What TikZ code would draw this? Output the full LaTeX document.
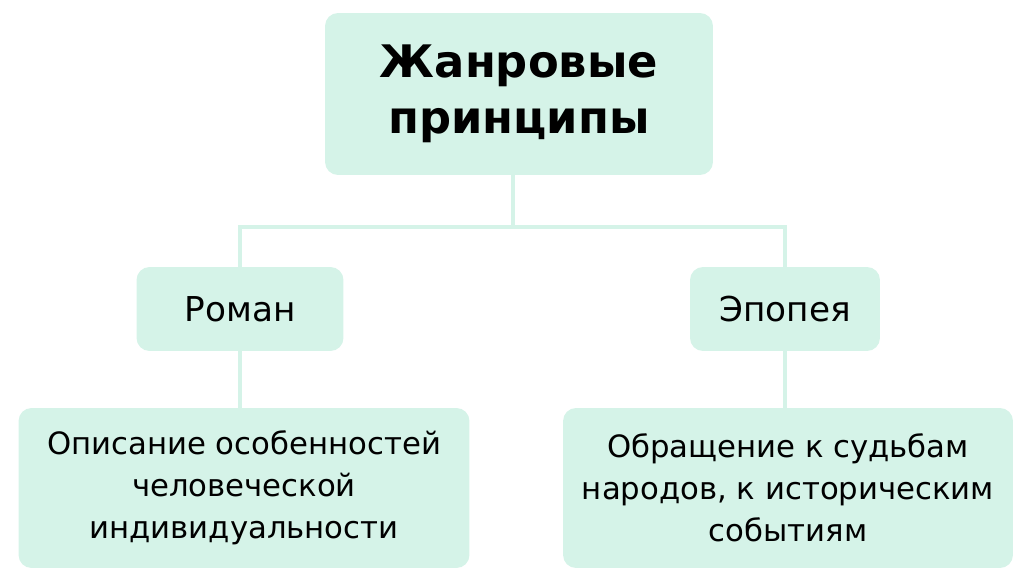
\documentclass[tikz,border=0pt]{standalone}
\usepackage{fontspec}
\setmainfont{DejaVu Sans}
\usepackage{tikz}
\usetikzlibrary{positioning}
\definecolor{mint}{HTML}{D5F3E8}
\tikzset{box/.style = {fill = mint, rounded corners = 0.26cm, align = center,
                       inner sep = 0, text = black}}
\tikzset{link/.style = {draw = mint, line width = 0.08cm}}

\begin{document}
\begin{tikzpicture}[x = 0.02cm, y = -0.02cm]
    \useasboundingbox (0, 0) rectangle (1024, 587);

    \node [box, minimum width = 7.76cm, minimum height = 3.24cm,
           font = \fontsize{25.5}{32}\selectfont\bfseries] (top) at (519, 94)
          {Жанровые\\принципы};

    \node [box, minimum width = 4.14cm, minimum height = 1.68cm,
           font = \fontsize{19.5}{23}\selectfont] (roman) at (240, 309) {Роман};
    \node [box, minimum width = 3.80cm, minimum height = 1.68cm,
           font = \fontsize{19.5}{23}\selectfont] (epic) at (785, 309) {Эпопея};

    \node [box, minimum width = 9.02cm, minimum height = 3.20cm,
           font = \fontsize{17.5}{24}\selectfont] (romandesc) at (244, 488)
          {Описание особенностей\\человеческой\\индивидуальности};
    \node [box, minimum width = 9.00cm, minimum height = 3.20cm,
           font = \fontsize{17.5}{24}\selectfont] (epicdesc) at (788, 488)
          {Обращение к судьбам\\народов, к историческим\\событиям};

    % connectors
    \coordinate (split) at (513, 227);
    \draw [link] (top.south -| split) -- (split);
    \draw [link] (roman.north) |- (split) -| (epic.north);
    \draw [link] (roman.south) -- (romandesc.north -| roman.south);
    \draw [link] (epic.south) -- (epicdesc.north -| epic.south);
\end{tikzpicture}
\end{document}
